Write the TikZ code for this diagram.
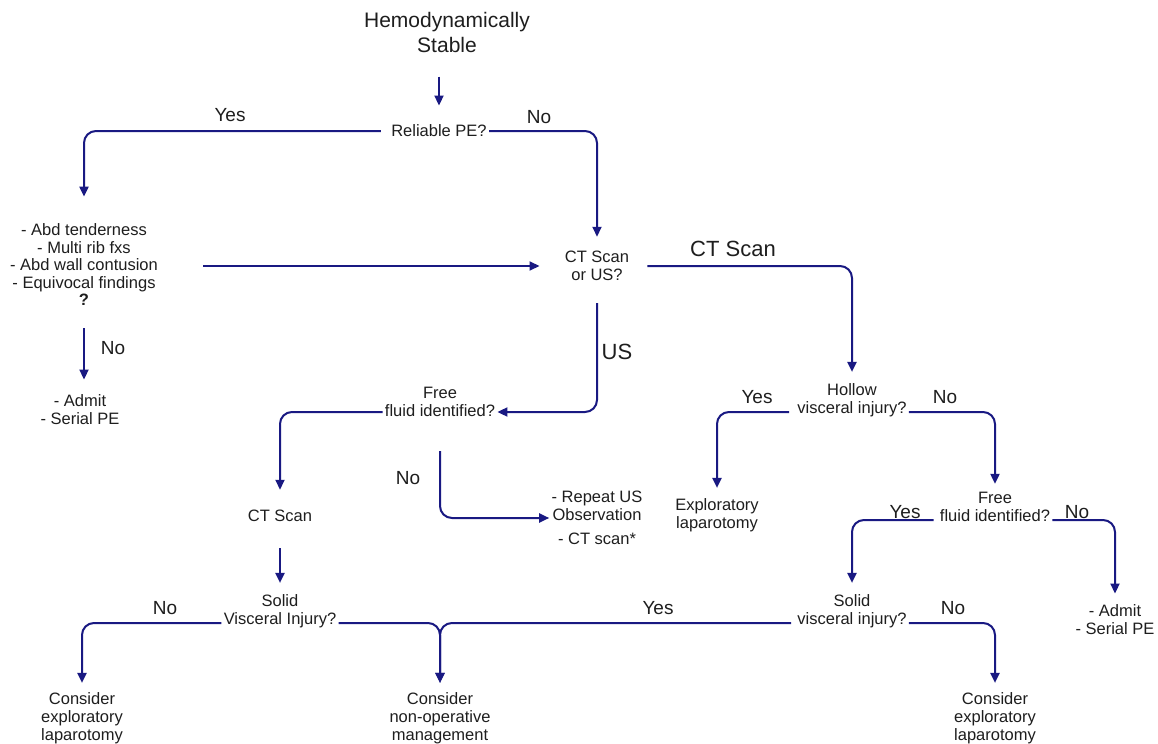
\documentclass[tikz,border=0pt]{standalone}
\usepackage{fontspec}
\setmainfont{Liberation Sans}
\usetikzlibrary{arrows.meta,calc}
\definecolor{flow}{RGB}{25,25,130}
\definecolor{ink}{RGB}{30,30,30}
\begin{document}
\begin{tikzpicture}[x=0.5pt,y=-0.5pt,
 txt/.style={font=\fontsize{8.25}{9}\selectfont, align=center, inner sep=1pt, text=ink},
 bigtxt/.style={font=\fontsize{10.5}{12.5}\selectfont, align=center, inner sep=1pt, text=ink},
 lab/.style={font=\fontsize{9.5}{11}\selectfont, inner sep=0pt, text=ink},
 biglab/.style={font=\fontsize{11}{13}\selectfont, inner sep=0pt, text=ink},
 conn/.style={draw=flow, line width=1pt, rounded corners=6pt},
 arr/.style={conn, -{Triangle[length=5pt,width=4.5pt]}},
]
\useasboundingbox[fill=white] (0,0) rectangle (1158,744);

% nodes
\node[bigtxt] (hemo) at (447,32) {Hemodynamically\\Stable};
\node[txt] (rel) at (439,131) {Reliable PE?};
\node[txt, font=\fontsize{8.25}{8.75}\selectfont] (list) at (84,265) {- Abd tenderness\\- Multi rib fxs\\- Abd wall contusion\\- Equivocal findings\\\textbf{?}};
\node[txt] (ctus) at (597,266) {CT Scan\\or US?};
\node[txt] (adm1) at (80,410) {- Admit\\- Serial PE};
\node[txt] (ffl) at (440,402) {Free\\fluid identified?};
\node[txt] (cts) at (280,516) {CT Scan};
\node[txt] (rep) at (597,518) {- Repeat US\\Observation\\[3pt]- CT scan*};
\node[txt] (svl) at (280,611) {Solid\\Visceral Injury?};
\node[txt] (cel) at (82,718) {Consider\\exploratory\\laparotomy};
\node[txt] (cnm) at (440,718) {Consider\\non-operative\\management};
\node[txt] (hvi) at (852,400) {Hollow\\visceral injury?};
\node[txt] (expl) at (717,515) {Exploratory\\laparotomy};
\node[txt] (ffr) at (995,507) {Free\\fluid identified?};
\node[txt] (adm2) at (1115,620) {- Admit\\- Serial PE};
\node[txt] (svr) at (852,611) {Solid\\visceral injury?};
\node[txt] (cer) at (995,718) {Consider\\exploratory\\laparotomy};

% labels
\node[lab] (l1) at (230,115) {Yes};
\node[lab] (l2) at (539,117) {No};
\node[biglab] (l3) at (733,249) {CT Scan};
\node[lab] (l4) at (113,348) {No};
\node[biglab] (l5) at (617,352) {US};
\node[lab] (l6) at (408,478) {No};
\node[lab] (l7) at (757,397) {Yes};
\node[lab] (l8) at (945,397) {No};
\node[lab] (l9) at (905,512) {Yes};
\node[lab] (l10) at (1077,512) {No};
\node[lab] (l11) at (165,608) {No};
\node[lab] (l12) at (658,608) {Yes};
\node[lab] (l13) at (953,608) {No};

% connectors
\draw[arr, shorten <=11pt, shorten >=8.5pt] (hemo.south -| rel.north) -- (rel.north);
\draw[arr, shorten <=4pt, shorten >=12.5pt] (rel.west) -| (list.north);
\draw[arr, shorten >=6pt] (rel.east) -| (ctus.north);
\draw[arr, shorten <=21.5pt, shorten >=11.5pt] (list.east |- ctus.west) -- (ctus.west);
\draw[arr, shorten <=8pt, shorten >=4.5pt] (ctus.east) -| (hvi.north);
\draw[arr, shorten <=10pt, shorten >=6.5pt] (list.south) -- (list.south |- adm1.north);
\draw[arr, shorten <=10pt] (ctus.south) |- ([yshift=-5pt]ffl.east);
\draw[arr, shorten >=9pt] ([yshift=-5pt]ffl.west) -| (cts.north);
\draw[arr, shorten <=16pt] (ffl.south) |- (rep.west);
\draw[arr, shorten <=12pt, shorten >=4.5pt] (cts.south) -- (svl.north);
\draw[arr, shorten >=3.5pt] ([yshift=-6pt]svl.west) -| (cel.north);
\draw[arr, shorten >=3.5pt] ([yshift=-6pt]svl.east) -| (cnm.north);
\draw[arr, shorten <=2pt, shorten >=3.5pt] ([yshift=-6pt]svr.west) -| (cnm.north);
\draw[arr, shorten >=3.5pt] ([yshift=-6pt]svr.east) -| (cer.north);
\draw[arr, shorten <=3pt, shorten >=4pt] ([yshift=-6pt]hvi.west) -| (expl.north);
\draw[arr, shorten >=3pt] ([yshift=-6pt]hvi.east) -| (ffr.north);
\draw[arr, shorten <=2pt, shorten >=4.5pt] ([yshift=-6.5pt]ffr.west) -| (svr.north);
\draw[arr, shorten >=4.5pt] ([yshift=-6.5pt]ffr.east) -| (adm2.north);
\end{tikzpicture}
\end{document}
